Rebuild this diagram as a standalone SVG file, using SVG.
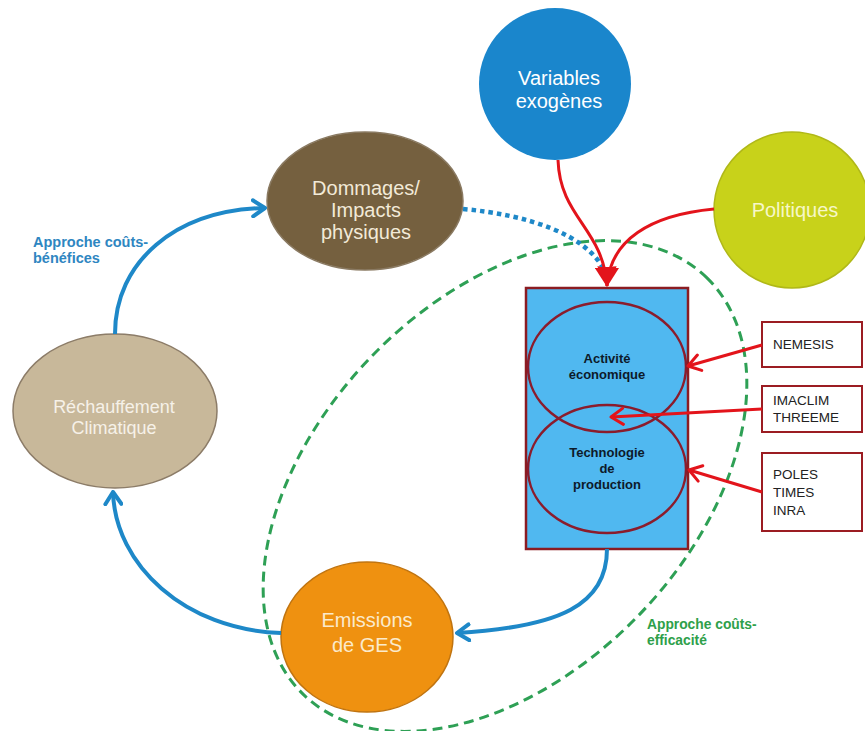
<svg xmlns="http://www.w3.org/2000/svg" width="865" height="731" viewBox="0 0 865 731">
<defs>
<style>
.lbl{font-family:"Liberation Sans",Arial,sans-serif;text-anchor:middle}
.big{font-size:20px}
.inner{font-size:13px;font-weight:bold;fill:#0d1a2a}
.box{fill:#ffffff;stroke:#9b1c22;stroke-width:2}
.boxt{font-family:"Liberation Sans",Arial,sans-serif;font-size:13.5px;fill:#222}
.blue{fill:none;stroke:#1e88c8;stroke-width:4}
.red{fill:none;stroke:#e3141b;stroke-width:3}
.note{font-family:"Liberation Sans",Arial,sans-serif;font-weight:bold}
</style>
<marker id="ab" viewBox="0 0 16 20" markerWidth="16" markerHeight="20" refX="14" refY="10" orient="auto" markerUnits="userSpaceOnUse">
<path d="M2,2 L14,10 L2,18" fill="none" stroke="#1e88c8" stroke-width="4" stroke-linecap="round" stroke-linejoin="round"/>
</marker>
<marker id="ar" viewBox="0 0 16 20" markerWidth="16" markerHeight="20" refX="14" refY="10" orient="auto" markerUnits="userSpaceOnUse">
<path d="M2,2 L14,10 L2,18" fill="none" stroke="#e3141b" stroke-width="3" stroke-linecap="round" stroke-linejoin="round"/>
</marker>
<marker id="arf" viewBox="0 0 20 22" markerWidth="20" markerHeight="22" refX="19" refY="11" orient="auto" markerUnits="userSpaceOnUse">
<path d="M0,0 L20,11 L0,22 Z" fill="#e3141b"/>
</marker>
</defs>
<rect width="865" height="731" fill="#ffffff"/>

<g id="scope-cost-efficiency">
<ellipse cx="505" cy="486" rx="290" ry="186" transform="rotate(-46 505 486)" fill="none" stroke="#2ea055" stroke-width="3" stroke-dasharray="10,6"/>
</g>

<g id="n-variables">
<circle cx="555" cy="84" r="76" fill="#1a86cc"/>
<text class="lbl big" x="559" y="85" fill="#ffffff">Variables</text>
<text class="lbl big" x="559" y="108" fill="#ffffff">exogènes</text>
</g>

<g id="n-politiques">
<circle cx="792" cy="210" r="78" fill="#c8d21a" stroke="#b0b818" stroke-width="1.5"/>
<text class="lbl big" x="795" y="217" fill="#f7f7c8">Politiques</text>
</g>

<g id="n-dommages">
<ellipse cx="365" cy="201" rx="98" ry="69" fill="#75603f" stroke="#8a7a62" stroke-width="1.5"/>
<text class="lbl big" x="366" y="195" fill="#f2ead8">Dommages/</text>
<text class="lbl big" x="366" y="217" fill="#f2ead8">Impacts</text>
<text class="lbl big" x="366" y="239" fill="#f2ead8">physiques</text>
</g>

<g id="n-rechauffement">
<ellipse cx="115" cy="411" rx="102" ry="77" fill="#c8b89a" stroke="#8c7c68" stroke-width="1.5"/>
<text class="lbl" x="114" y="413" font-size="18" fill="#f6f1e8">Réchauffement</text>
<text class="lbl" x="114" y="434" font-size="18" fill="#f6f1e8">Climatique</text>
</g>

<g id="n-emissions">
<ellipse cx="367" cy="637" rx="86" ry="75" fill="#ef9110" stroke="#c07410" stroke-width="1.5"/>
<text class="lbl big" x="367" y="627" fill="#fbeacb">Emissions</text>
<text class="lbl big" x="367" y="652" fill="#fbeacb">de GES</text>
</g>

<g id="n-modele">
<rect x="526" y="288" width="162" height="261" fill="#50b8f0" stroke="#8b1c22" stroke-width="2.5"/>
<ellipse cx="607" cy="367" rx="79" ry="65" fill="none" stroke="#8b1c2c" stroke-width="2.5"/>
<ellipse cx="607" cy="469" rx="79" ry="64" fill="none" stroke="#8b1c2c" stroke-width="2.5"/>
</g>

<g id="n-activite">
<text class="lbl inner" x="607" y="363">Activité</text>
<text class="lbl inner" x="607" y="379">économique</text>
</g>

<g id="n-technologie">
<text class="lbl inner" x="607" y="457">Technologie</text>
<text class="lbl inner" x="607" y="473">de</text>
<text class="lbl inner" x="607" y="489">production</text>
</g>

<g id="n-nemesis">
<rect class="box" x="762" y="322" width="100" height="45"/>
<text class="boxt" x="773" y="349">NEMESIS</text>
</g>

<g id="n-imaclim">
<rect class="box" x="762" y="386" width="100" height="46"/>
<text class="boxt" x="773" y="405">IMACLIM</text>
<text class="boxt" x="773" y="422">THREEME</text>
</g>

<g id="n-poles">
<rect class="box" x="762" y="453" width="100" height="78"/>
<text class="boxt" x="773" y="479">POLES</text>
<text class="boxt" x="773" y="497">TIMES</text>
<text class="boxt" x="773" y="515">INRA</text>
</g>

<g id="connectors">
<path class="blue" d="M115,334 C115,262 175,210 265,208" marker-end="url(#ab)"/>
<path class="blue" d="M281,633 C185,630 115,565 113,492" marker-end="url(#ab)"/>
<path class="blue" d="M607,549 C607,605 560,627 457,633" marker-end="url(#ab)"/>
<path d="M463,209 C530,215 585,235 603,268" fill="none" stroke="#1e88c8" stroke-width="4.5" stroke-dasharray="4.5,4"/>
<path class="red" d="M558,160 C560,218 603,228 607,286" marker-end="url(#arf)"/>
<path class="red" d="M714,209 C650,215 610,240 607,286" marker-end="url(#arf)"/>
<path class="red" d="M762,345 L688,366" marker-end="url(#ar)"/>
<path class="red" d="M762,409 L611,417" marker-end="url(#ar)"/>
<path class="red" d="M762,492 L689,470" marker-end="url(#ar)"/>
</g>

<g id="labels">
<text class="note" x="33" y="247" font-size="14.5" fill="#2e86c1">Approche coûts-</text>
<text class="note" x="33" y="263" font-size="14.5" fill="#2e86c1">bénéfices</text>
<text class="note" x="647" y="629" font-size="13.8" fill="#2ea04a">Approche coûts-</text>
<text class="note" x="647" y="645" font-size="13.8" fill="#2ea04a">efficacité</text>
</g>
</svg>
